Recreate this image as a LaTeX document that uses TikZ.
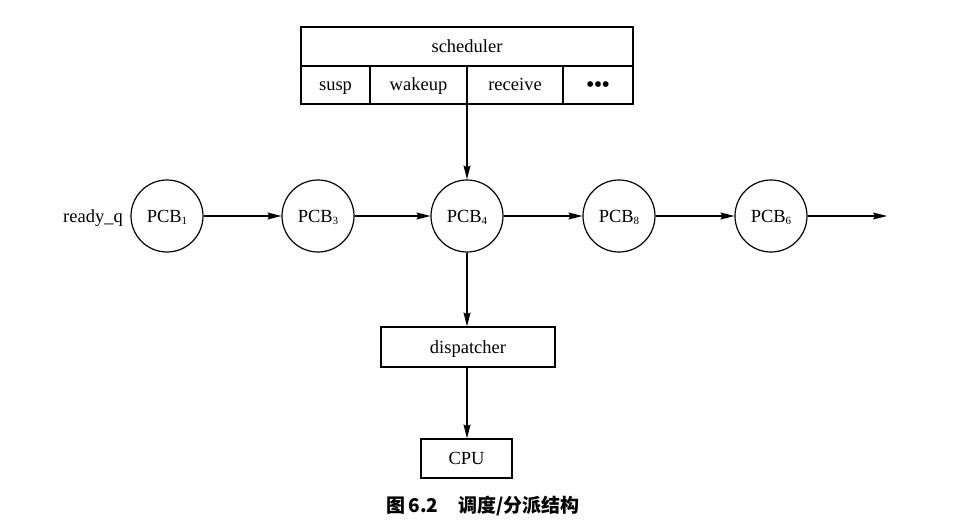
\documentclass[tikz,border=0pt]{standalone}
\usepackage{fontspec}
\setmainfont{Liberation Serif}
\newfontfamily\cjk{Noto Sans CJK SC}
\usetikzlibrary{arrows.meta}
\newcommand{\pcbsub}[1]{\raisebox{-2.5pt}{\fontsize{11}{11}\selectfont #1}}
\begin{document}
\begin{tikzpicture}[x=1pt,y=-1pt,
  every node/.style={font=\fontsize{18.5}{20}\selectfont,text height=16pt,text depth=4pt},
  cell/.style={draw,line width=1.2pt,rectangle,inner sep=0pt},
  pcb/.style={draw,line width=1.2pt,circle,minimum size=72pt,inner sep=0pt},
  link/.style={line width=1.2pt,-{Stealth[length=14pt,width=7pt,inset=2pt]}}]
\useasboundingbox (0,0) rectangle (958,532);
% scheduler
\node[cell,minimum width=332pt,minimum height=39pt] (sched) at (467,46.5) {scheduler};
\node[cell,minimum width=69pt,minimum height=38pt] (susp) at (335.5,85) {susp};
\node[cell,minimum width=97pt,minimum height=38pt] (wakeup) at (418.5,85) {wakeup};
\node[cell,minimum width=96pt,minimum height=38pt] (receive) at (515,85) {receive};
\node[cell,minimum width=70pt,minimum height=38pt] (dots) at (598,85) {\raisebox{-2pt}{\fontsize{24}{24}\selectfont\textbullet\kern-0.6pt\textbullet\kern-0.6pt\textbullet}};
% ready queue
\node (rq) at (93,216) {ready\_q};
\node[pcb] (p1) at (167,216) {PCB\pcbsub{1}};
\node[pcb] (p3) at (318,216) {PCB\pcbsub{3}};
\node[pcb] (p4) at (467,216) {PCB\pcbsub{4}};
\node[pcb] (p8) at (619,216) {PCB\pcbsub{8}};
\node[pcb] (p6) at (771,216) {PCB\pcbsub{6}};
\coordinate (qend) at (887,216);
\draw[link] (p1) -- (p3);
\draw[link] (p3) -- (p4);
\draw[link] (p4) -- (p8);
\draw[link] (p8) -- (p6);
\draw[link] (p6) -- (qend);
\draw[link] (wakeup.south east -| p4.north) -- (p4.north);
% dispatcher and CPU
\node[cell,minimum width=174pt,minimum height=40pt] (disp) at (468,347) {dispatcher};
\node[cell,minimum width=91pt,minimum height=39pt] (cpu) at (466.5,458.5) {CPU};
\draw[link] (p4.south) -- (disp.north -| p4.south);
\draw[link] (disp.south -| p4.south) -- (cpu.north -| p4.south);
% caption
\node[font=\cjk\bfseries\fontsize{19}{21}\selectfont,text height=,text depth=] (cap) at (483,506) {图\,6.2\hspace{20pt}调度/分派结构};
\end{tikzpicture}
\end{document}
